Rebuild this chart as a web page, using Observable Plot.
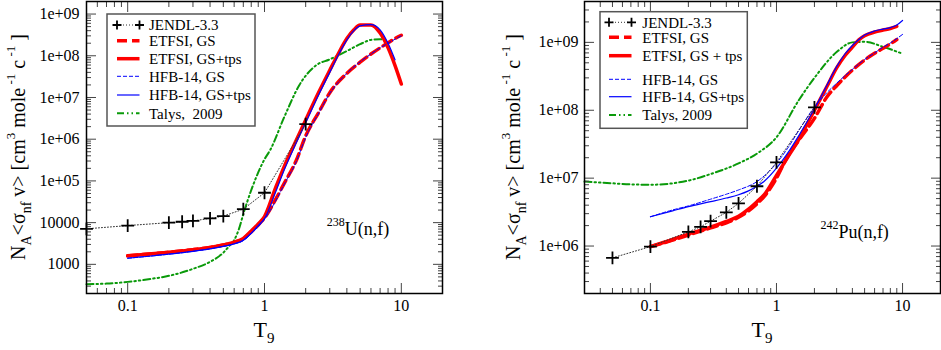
<!DOCTYPE html>
<html><head><meta charset="utf-8">
<script src="https://cdn.jsdelivr.net/npm/d3@7"></script>
<script src="https://cdn.jsdelivr.net/npm/@observablehq/plot@0.6"></script>
<style>
body{margin:0;background:#fff;}
#wrap{display:flex;width:941px;height:350px;overflow:hidden;}
</style></head><body><div id="wrap"></div>
<script>
// ---------- 238U(n,f) panel data ----------
const uT_jendl = [0.05,0.1,0.2,0.25,0.3,0.4,0.5,0.7,1,2];
const u_jendl  = [7100,8500,10000,10500,11000,12600,14300,21000,52000,2.3e6];
const uT_etfsiTps = [0.1,0.2,0.3,0.4,0.5,0.6,0.7,0.8,0.9,1.0,1.2,1.4,1.7,2.0,2.5,3.0,3.5,4.0,4.5,5.0,6.0,7.0,8.0,9.0,10];
const u_etfsiTps  = [1600,1950,2250,2550,2900,3400,4200,6300,9300,14000,6.6e4,2.3e5,9.2e5,2.9e6,1.37e7,4.5e7,1.2e8,2.6e8,4.2e8,5.45e8,5.5e8,3.5e8,1.55e8,5.8e7,2.1e7];
const uT_hfbTps = [0.1,0.2,0.3,0.4,0.5,0.6,0.7,0.8,0.9,1.0,1.2,1.4,1.7,2.0,2.5,3.0,3.5,4.0,4.5,5.0,6.0,7.0,8.0,9.0];
const u_hfbTps  = [1400,1750,2050,2350,2700,3100,3800,5600,8500,12500,5.2e4,1.9e5,8e5,2.5e6,1.2e7,4e7,1.1e8,2.4e8,4e8,5.2e8,5.6e8,4.2e8,2e8,8e7];
const uT_etfsiGS = [0.1,0.2,0.3,0.4,0.5,0.6,0.7,0.8,0.9,1.0,1.2,1.4,1.7,2.0,2.5,3.0,4.0,5.0,6.0,7.0,8.0,9.0,10];
const u_etfsiGS  = [1600,1950,2250,2550,2900,3350,4100,6000,8800,13000,3.5e4,9e4,3e5,1.2e6,4.5e6,1.3e7,3.8e7,7e7,1.1e8,1.55e8,2.05e8,2.6e8,3.1e8];
const uT_hfbGS = [0.1,0.2,0.3,0.4,0.5,0.6,0.7,0.8,0.9,1.0,1.2,1.4,1.7,2.0,2.5,3.0,4.0,5.0,6.0,7.0,8.0,9.0,10];
const u_hfbGS  = [1400,1750,2050,2350,2700,3100,3700,5400,8000,12000,3.2e4,8.5e4,2.8e5,1.1e6,4.3e6,1.25e7,3.8e7,7.2e7,1.1e8,1.55e8,2e8,2.5e8,3e8];
const uT_talys = [0.05,0.07,0.1,0.15,0.2,0.3,0.4,0.5,0.55,0.6,0.65,0.7,0.8,0.9,1.0,1.1,1.4,1.8,2.4,3.0,4.0,5.0,6.0,7.0,8.0];
const u_talys  = [335,345,380,450,530,780,1150,1900,2700,3800,7000,1.6e4,6e4,1.6e5,3.3e5,5.5e5,3.5e6,2e7,6e7,8.2e7,1.3e8,1.9e8,2.4e8,2.5e8,2.2e8];

// ---------- 242Pu(n,f) panel data ----------
const pT_jendl = [0.05,0.1,0.2,0.25,0.3,0.4,0.5,0.7,1,2];
const p_jendl  = [6.7e5,9.8e5,1.62e6,1.92e6,2.33e6,3.13e6,4.26e6,7.6e6,1.71e7,1.1e8];
const pT_etfsiTps = [0.1,0.15,0.2,0.3,0.4,0.5,0.6,0.7,0.8,1.0,1.2,1.5,2.0,2.5,3.0,3.5,4.0,4.5,5.0,6.0,7.0,8.0,9.0];
const p_etfsiTps  = [9.8e5,1.25e6,1.5e6,1.9e6,2.3e6,2.75e6,3.5e6,4.5e6,5.7e6,1.1e7,1.9e7,3.7e7,1e8,2.2e8,4.2e8,6.4e8,8.5e8,1.09e9,1.25e9,1.42e9,1.52e9,1.6e9,1.72e9];
const pT_hfbTps = [0.1,0.15,0.2,0.3,0.4,0.5,0.6,0.7,0.8,1.0,1.2,1.5,2.0,2.5,3.0,3.5,4.0,4.5,5.0,6.0,7.0,8.0,9.0,10];
const p_hfbTps  = [2.7e6,3.3e6,3.8e6,4.5e6,5.1e6,5.7e6,6.5e6,7.6e6,9e6,1.4e7,2.2e7,4.2e7,1.05e8,2.3e8,4.4e8,6.8e8,9e8,1.1e9,1.28e9,1.47e9,1.57e9,1.65e9,1.8e9,2.1e9];
const pT_etfsiGS = [0.1,0.15,0.2,0.3,0.4,0.5,0.6,0.7,0.8,1.0,1.2,1.5,2.0,2.5,3.0,4.0,5.0,6.0,7.0,8.0,9.0];
const p_etfsiGS  = [9.8e5,1.22e6,1.45e6,1.85e6,2.2e6,2.65e6,3.3e6,4.2e6,5.4e6,1.0e7,1.95e7,3.6e7,7.6e7,1.55e8,2.3e8,3.9e8,5.5e8,6.9e8,8.2e8,9.5e8,1.1e9];
const pT_hfbGS = [0.1,0.15,0.2,0.3,0.4,0.5,0.7,1.0,1.2,1.5,2.0,2.5,3.0,4.0,5.0,6.0,7.0,8.0,10];
const p_hfbGS  = [2.7e6,3.4e6,3.9e6,4.9e6,5.8e6,6.7e6,8.9e6,1.66e7,2.6e7,5e7,1.12e8,1.8e8,2.5e8,4e8,5.6e8,7e8,8.5e8,9.8e8,1.31e9];
const pT_talys = [0.03,0.05,0.07,0.1,0.15,0.2,0.3,0.5,0.7,1.0,1.5,2.0,3.0,4.0,5.0,7.0,10];
const p_talys  = [8.9e6,8.4e6,8.1e6,8.0e6,8.4e6,9.2e6,1.15e7,1.65e7,2.3e7,4.0e7,1.4e8,3e8,7.2e8,1.0e9,1.02e9,8.6e8,6.8e8];

// ---------- ticks / labels ----------
const xTicks = [0.1, 1, 10];
const xTickLabels = ["0.1", "1", "10"];
const uYTicks = [1e3,1e4,1e5,1e6,1e7,1e8,1e9];
const uYTickLabels = ["1000","10000","1e+05","1e+06","1e+07","1e+08","1e+09"];
const pYTicks = [1e6,1e7,1e8,1e9];
const pYTickLabels = ["1e+06","1e+07","1e+08","1e+09"];
const legendKeys = ["jendl","etfsiGS","etfsiTps","hfbGS","hfbTps","talys"];
const uLegendLabels = ["JENDL-3.3","ETFSI, GS","ETFSI, GS+tps","HFB-14, GS","HFB-14, GS+tps","Talys,  2009"];
const pLegendLabels = ["JENDL-3.3","ETFSI, GS","ETFSI, GS + tps","HFB-14, GS","HFB-14, GS+tps","Talys, 2009"];

const FONT = "'Liberation Serif','Times New Roman',Times,serif";
const STYLES = {
  jendl:    {stroke:"#333", width:1, dash:"1,2"},
  etfsiGS:  {stroke:"#ff0000", width:3.5, dash:"10,5"},
  etfsiTps: {stroke:"#ff0000", width:3.5, dash:null},
  hfbGS:    {stroke:"#0000ff", width:1, dash:"4,2"},
  hfbTps:   {stroke:"#0000ff", width:1.2, dash:null},
  talys:    {stroke:"#0a9a0a", width:2, dash:"7,3,1.5,3,1.5,3"}
};

function rows(T, V) { return T.map((t, i) => ({T: t, V: V[i]})); }
function minor([a, b]) {
  const out = [];
  for (let e = Math.floor(Math.log10(a)); e <= Math.ceil(Math.log10(b)); e++)
    for (let m = 2; m <= 9; m++) { const v = m * Math.pow(10, e); if (v >= a * 0.999 && v <= b * 1.001) out.push(v); }
  return out;
}

function panel(cfg) {
  const s = cfg.series;
  const lineMark = (key) => Plot.line(rows(s[key][0], s[key][1]), {
    x: "T", y: "V", stroke: STYLES[key].stroke, strokeWidth: STYLES[key].width,
    strokeDasharray: STYLES[key].dash || undefined, curve: "monotone-x"
  });
  const jd = rows(s.jendl[0], s.jendl[1]);
  const xMin = minor(cfg.xDomain), yMin = minor(cfg.yDomain);
  const xMap = new Map(xTicks.map((v, i) => [v, xTickLabels[i]]));
  const yMap = new Map(cfg.yTicks.map((v, i) => [v, cfg.yTickLabels[i]]));
  const tk = {fill: "none", label: null, stroke: "#444", strokeWidth: 1};
  const marks = [
    lineMark("talys"), lineMark("etfsiGS"), lineMark("etfsiTps"), lineMark("hfbGS"), lineMark("hfbTps"),
    Plot.line(jd, {x: "T", y: "V", stroke: "#333", strokeWidth: 1, strokeDasharray: "1,2"}),
    Plot.dot(jd, {x: "T", y: "V", symbol: "plus", r: 4.2, stroke: "#000", strokeWidth: 1.8}),
    Plot.axisX({ticks: xTicks, anchor: "bottom", tickSize: -10, ...tk}),
    Plot.axisX({ticks: xMin, anchor: "bottom", tickSize: -5, ...tk}),
    Plot.axisX({ticks: xTicks, anchor: "top", tickSize: -10, ...tk}),
    Plot.axisX({ticks: xMin, anchor: "top", tickSize: -5, ...tk}),
    Plot.axisY({ticks: cfg.yTicks, anchor: "left", tickSize: -10, ...tk}),
    Plot.axisY({ticks: yMin, anchor: "left", tickSize: -5, ...tk}),
    Plot.axisY({ticks: cfg.yTicks, anchor: "right", tickSize: -10, ...tk}),
    Plot.axisY({ticks: yMin, anchor: "right", tickSize: -5, ...tk}),
    Plot.axisX({ticks: xTicks, anchor: "bottom", tickSize: 0, tickPadding: 6, tickFormat: d => xMap.get(d), fontSize: 16, label: null, fill: "#000"}),
    Plot.axisY({ticks: cfg.yTicks, anchor: "left", tickSize: 0, tickPadding: cfg.yPad, tickFormat: d => yMap.get(d), fontSize: 16, label: null, fill: "#000"}),
    Plot.frame({stroke: "#000", strokeWidth: 1.5})
  ];
  const el = Plot.plot({
    width: cfg.width, height: 350,
    marginLeft: cfg.marginLeft, marginRight: cfg.marginRight, marginTop: 1, marginBottom: 57,
    x: {type: "log", domain: cfg.xDomain, axis: null},
    y: {type: "log", domain: cfg.yDomain, axis: null},
    style: {fontFamily: FONT, background: "white", overflow: "visible"},
    marks
  });
  const svg = d3.select(el);
  const xs = el.scale("x"), ys = el.scale("y");
  const cx = (xs.range[0] + xs.range[1]) / 2;
  const cy = (ys.range[0] + ys.range[1]) / 2;

  // x label
  const xl = svg.append("text").attr("x", cx).attr("y", 337).attr("text-anchor", "middle")
    .attr("font-family", FONT).attr("font-size", 22).attr("fill", "#000");
  xl.append("tspan").text("T");
  xl.append("tspan").attr("font-size", 15).attr("dy", 6).text("9");

  // y label
  const yl = svg.append("text").attr("transform", `translate(${cfg.yLabX},${cy}) rotate(-90)`)
    .attr("text-anchor", "middle").attr("font-family", FONT).attr("font-size", 20).attr("fill", "#000")
    .attr("xml:space", "preserve").style("white-space", "pre");
  const parts = [["N",0,20],["A",6,14],["<σ",-6,20],["nf",6,14],[" v> [cm",-6,20],["3",-10,13],[" mole",10,20],[" -1",-10,13],[" c",10,20],[" -1",-10,13],[" ]",10,20]];
  for (const [t, dy, fs] of parts) yl.append("tspan").attr("dy", dy).attr("font-size", fs).text(t);

  // annotation
  const an = svg.append("text").attr("x", xs.apply(cfg.annT)).attr("y", ys.apply(cfg.annV))
    .attr("text-anchor", "start").attr("font-family", FONT).attr("fill", "#000");
  an.append("tspan").attr("font-size", 12).attr("dy", -9).text(cfg.annSup);
  an.append("tspan").attr("font-size", 18).attr("dy", 9).text(cfg.annMain);

  // legend
  const L = cfg.legend;
  const g = svg.append("g");
  g.append("rect").attr("x", L.x0).attr("y", L.y0).attr("width", L.x1 - L.x0).attr("height", L.y1 - L.y0)
    .attr("fill", "white").attr("stroke", "#555").attr("stroke-width", 1.5);
  legendKeys.forEach((k, i) => {
    const y = L.rows[i], st = STYLES[k];
    g.append("line").attr("x1", L.sx0).attr("x2", L.sx1).attr("y1", y).attr("y2", y)
      .attr("stroke", st.stroke).attr("stroke-width", st.width).attr("stroke-dasharray", st.dash || null);
    if (k === "jendl") {
      for (const px of [L.sx0, L.sx1]) {
        g.append("path").attr("d", `M${px-4.5},${y}H${px+4.5}M${px},${y-4.5}V${y+4.5}`).attr("stroke", "#000").attr("stroke-width", 1.8);
      }
    }
    g.append("text").attr("x", L.tx).attr("y", y).attr("dy", "0.35em").attr("text-anchor", "start")
      .attr("font-family", FONT).attr("font-size", 15).attr("fill", "#000")
      .attr("xml:space", "preserve").style("white-space", "pre").text(cfg.legendLabels[i]);
  });
  return el;
}

const wrap = document.getElementById("wrap");
wrap.appendChild(panel({
  width: 470, marginLeft: 86, marginRight: 28,
  xDomain: [0.05, 20], yDomain: [200, 2e9],
  yTicks: uYTicks, yTickLabels: uYTickLabels, yPad: 7, yLabX: 25,
  series: {jendl: [uT_jendl, u_jendl], etfsiTps: [uT_etfsiTps, u_etfsiTps], hfbTps: [uT_hfbTps, u_hfbTps],
           etfsiGS: [uT_etfsiGS, u_etfsiGS], hfbGS: [uT_hfbGS, u_hfbGS], talys: [uT_talys, u_talys]},
  annT: 2.87, annV: 5000, annSup: "238", annMain: "U(n,f)",
  legend: {x0: 107, y0: 14, x1: 255, y1: 126, rows: [25, 40.7, 58.7, 76.3, 95, 113.3], sx0: 117, sx1: 139.5, tx: 149},
  legendLabels: uLegendLabels
}));
wrap.appendChild(panel({
  width: 471, marginLeft: 114, marginRight: 1,
  xDomain: [0.03, 20], yDomain: [2e5, 4e9],
  yTicks: pYTicks, yTickLabels: pYTickLabels, yPad: 6, yLabX: 50,
  series: {jendl: [pT_jendl, p_jendl], etfsiTps: [pT_etfsiTps, p_etfsiTps], hfbTps: [pT_hfbTps, p_hfbTps],
           etfsiGS: [pT_etfsiGS, p_etfsiGS], hfbGS: [pT_hfbGS, p_hfbGS], talys: [pT_talys, p_talys]},
  annT: 2.25, annV: 1.27e6, annSup: "242", annMain: "Pu(n,f)",
  legend: {x0: 130, y0: 11.7, x1: 277.3, y1: 128.3, rows: [22.3, 37.3, 55.7, 79.3, 96.7, 115], sx0: 139, sx1: 161.5, tx: 172.3},
  legendLabels: pLegendLabels
}));
</script></body></html>
